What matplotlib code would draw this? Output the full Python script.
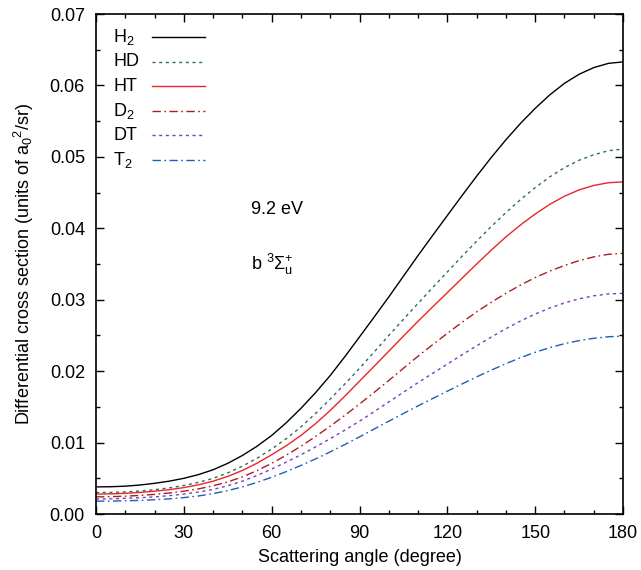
import matplotlib
matplotlib.use("Agg")
import matplotlib.pyplot as plt
from matplotlib.ticker import MultipleLocator, FormatStrFormatter

plt.rcParams['font.family'] = ['Liberation Sans', 'DejaVu Sans']
plt.rcParams['mathtext.fontset'] = 'custom'
plt.rcParams['mathtext.rm'] = 'Liberation Sans'
plt.rcParams['mathtext.it'] = 'Liberation Sans:italic'
plt.rcParams['mathtext.sf'] = 'Liberation Sans'

angle = list(range(0, 181, 5))

h2 = [0.00380, 0.00382, 0.00390, 0.00406, 0.00430, 0.00460, 0.00500, 0.00552, 0.00620, 0.00710,
      0.00820, 0.00949, 0.01100, 0.01279, 0.01480, 0.01700, 0.01940, 0.02204, 0.02480, 0.02758,
      0.03040, 0.03330, 0.03620, 0.03902, 0.04180, 0.04458, 0.04730, 0.04992, 0.05240, 0.05470,
      0.05680, 0.05869, 0.06030, 0.06157, 0.06250, 0.06309, 0.06330]
hd = [0.00300, 0.00302, 0.00310, 0.00322, 0.00340, 0.00366, 0.00400, 0.00443, 0.00500, 0.00576,
      0.00670, 0.00781, 0.00910, 0.01056, 0.01220, 0.01408, 0.01610, 0.01821, 0.02040, 0.02269,
      0.02500, 0.02726, 0.02950, 0.03171, 0.03390, 0.03608, 0.03820, 0.04025, 0.04220, 0.04403,
      0.04570, 0.04721, 0.04850, 0.04953, 0.05030, 0.05086, 0.05110]
ht = [0.00280, 0.00282, 0.00290, 0.00302, 0.00320, 0.00341, 0.00370, 0.00409, 0.00460, 0.00527,
      0.00610, 0.00712, 0.00830, 0.00957, 0.01100, 0.01266, 0.01450, 0.01651, 0.01860, 0.02069,
      0.02280, 0.02491, 0.02700, 0.02901, 0.03100, 0.03301, 0.03500, 0.03695, 0.03880, 0.04048,
      0.04200, 0.04336, 0.04450, 0.04538, 0.04600, 0.04638, 0.04650]
d2 = [0.00240, 0.00243, 0.00250, 0.00260, 0.00275, 0.00294, 0.00320, 0.00352, 0.00395, 0.00450,
      0.00520, 0.00608, 0.00710, 0.00824, 0.00950, 0.01086, 0.01230, 0.01382, 0.01540, 0.01703,
      0.01870, 0.02041, 0.02210, 0.02372, 0.02530, 0.02684, 0.02830, 0.02965, 0.03090, 0.03206,
      0.03310, 0.03401, 0.03480, 0.03548, 0.03600, 0.03636, 0.03650]
dt = [0.00210, 0.00213, 0.00220, 0.00228, 0.00240, 0.00257, 0.00280, 0.00308, 0.00345, 0.00396,
      0.00460, 0.00540, 0.00630, 0.00727, 0.00830, 0.00940, 0.01055, 0.01175, 0.01300, 0.01433,
      0.01570, 0.01706, 0.01840, 0.01971, 0.02100, 0.02229, 0.02355, 0.02478, 0.02595, 0.02703,
      0.02800, 0.02884, 0.02955, 0.03013, 0.03055, 0.03081, 0.03090]
t2 = [0.00180, 0.00181, 0.00185, 0.00191, 0.00200, 0.00212, 0.00230, 0.00253, 0.00285, 0.00328,
      0.00380, 0.00443, 0.00515, 0.00594, 0.00680, 0.00772, 0.00870, 0.00973, 0.01080, 0.01190,
      0.01300, 0.01408, 0.01515, 0.01618, 0.01720, 0.01821, 0.01920, 0.02015, 0.02105, 0.02189,
      0.02265, 0.02330, 0.02385, 0.02428, 0.02460, 0.02482, 0.02490]

labels = ['H$_2$', 'HD', 'HT', 'D$_2$', 'DT', 'T$_2$']
series = [h2, hd, ht, d2, dt, t2]
colors = ['#000000', '#2e6e58', '#e8262a', '#a8201e', '#7a3cc0', '#1f5fb4']
styles = ['-', (0, (2.2, 2.6)), '-', (0, (6, 2.5, 1.2, 2.5)), (0, (2.2, 2.6)), (0, (6, 2.5, 1.2, 2.5))]

fig = plt.figure(figsize=(6.41, 5.70), dpi=100)
ax = fig.add_axes([0.1498, 0.0982, 0.8222, 0.8772])

for y, c, ls in zip(series, colors, styles):
    ax.plot(angle, y, color=c, linestyle=ls, linewidth=1.0)

# legend drawn in axes coordinates (text left, sample line right)
legend_rows = [0.954, 0.905, 0.856, 0.807, 0.758, 0.709]
for yy, lab, c, ls in zip(legend_rows, labels, colors, styles):
    ax.text(0.033, yy, lab, transform=ax.transAxes, fontsize=13, va='center', ha='left')
    ax.plot([0.106, 0.207], [yy, yy], transform=ax.transAxes, color=c, linestyle=ls,
            linewidth=1.0, clip_on=False)

ax.set_xlim(0, 180)
ax.set_ylim(0, 0.07)
ax.xaxis.set_major_locator(MultipleLocator(30))
ax.xaxis.set_minor_locator(MultipleLocator(10))
ax.yaxis.set_major_locator(MultipleLocator(0.01))
ax.yaxis.set_minor_locator(MultipleLocator(0.005))
ax.yaxis.set_major_formatter(FormatStrFormatter('%.2f'))
ax.tick_params(which='both', direction='in', top=True, right=True, labelsize=13)
ax.tick_params(which='major', length=6, width=1.0)
ax.tick_params(which='minor', length=3, width=1.0)
ax.tick_params(axis='x', which='major', pad=8)
ax.tick_params(axis='y', which='major', pad=8)
for s in ax.spines.values():
    s.set_linewidth(1.2)

ax.set_xlabel('Scattering angle (degree)', fontsize=13, labelpad=5)
ax.set_ylabel('Differential cross section (units of a$_0$$^2$/sr)', fontsize=13, labelpad=10)

ax.text(0.295, 0.6, '9.2 eV', transform=ax.transAxes, fontsize=13)
ax.text(0.295, 0.488, 'b $^{3}\\Sigma_{\\mathrm{u}}^{+}$', transform=ax.transAxes, fontsize=13)

fig.savefig('out.png', dpi=100)
